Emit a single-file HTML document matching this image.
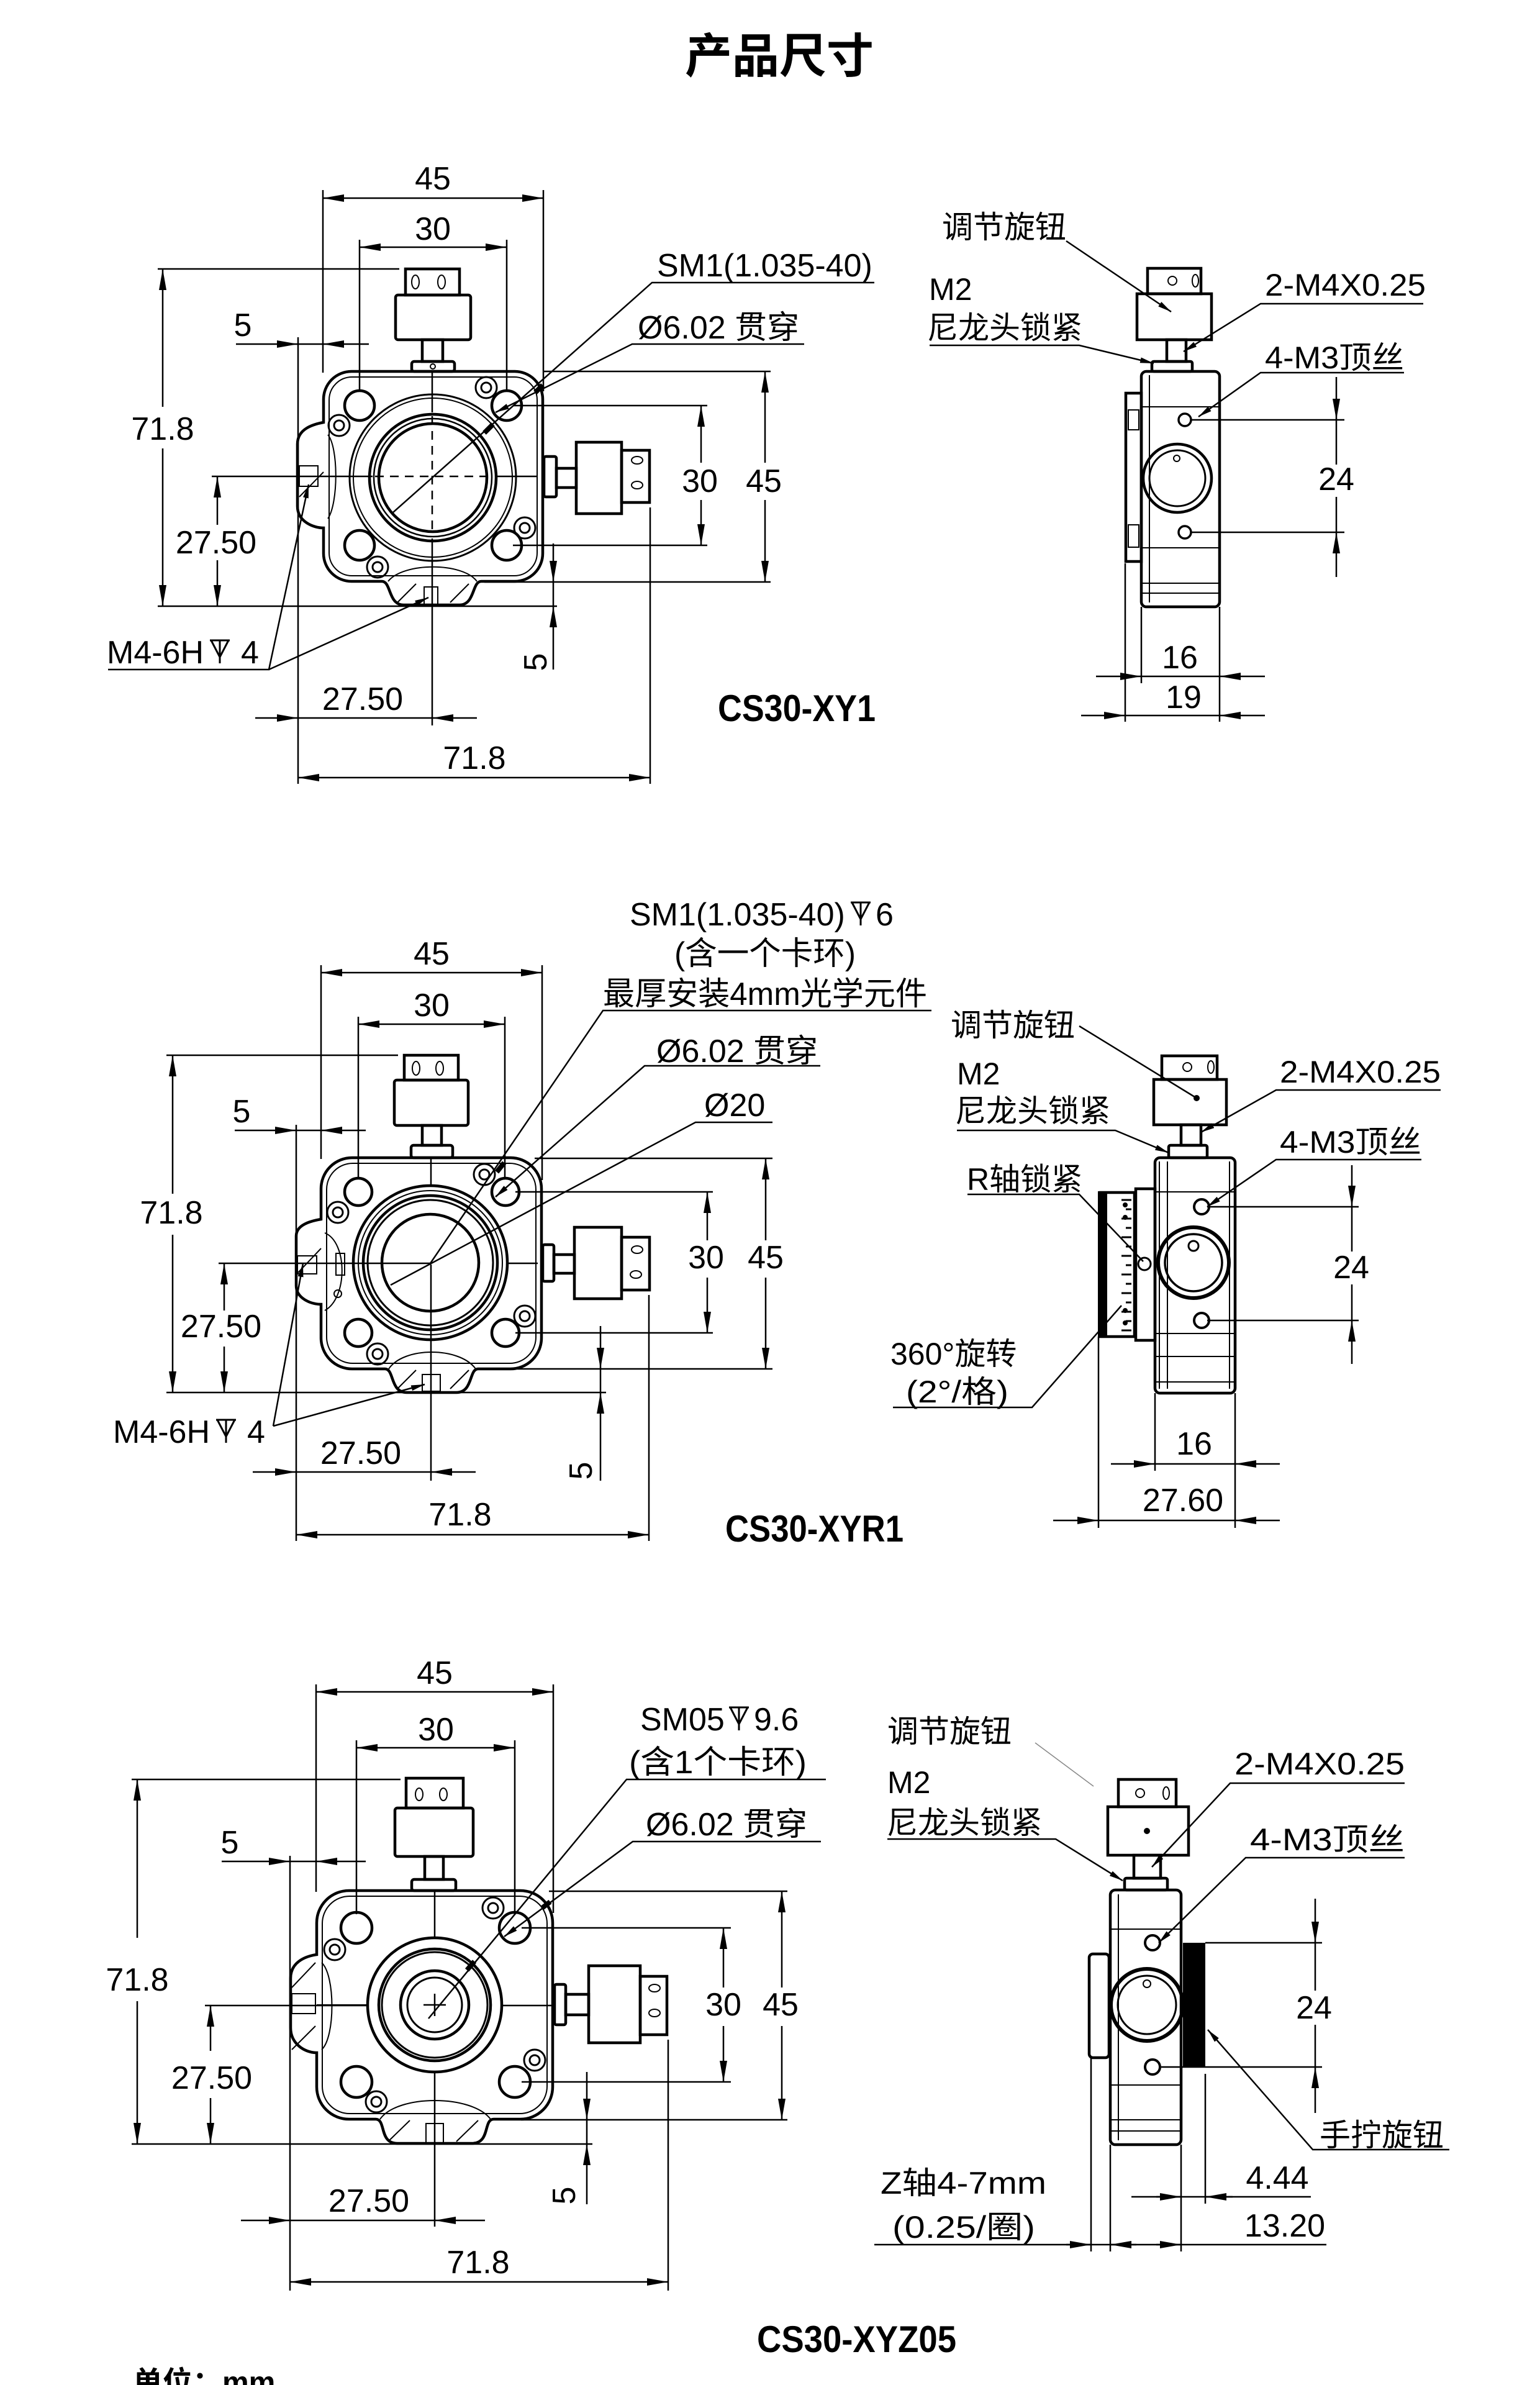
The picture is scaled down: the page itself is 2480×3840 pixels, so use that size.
<!DOCTYPE html>
<html><head><meta charset="utf-8">
<style>
html,body{margin:0;padding:0;background:#fff;}
svg{display:block;}
.dl{stroke:#000;stroke-width:2.5;fill:none;}
.pl{stroke:#000;stroke-width:4.5;fill:none;}
.tl{stroke:#000;stroke-width:2;fill:none;}
.ae{marker-end:url(#ar);}
.a2{marker-start:url(#ar);marker-end:url(#ar);}
.le{marker-end:url(#sa);}
.dash{stroke-dasharray:14 10;}
text{font-family:"Liberation Sans","Noto Sans CJK SC",sans-serif;fill:#000;}
.n{font-size:52px;}
.c{font-size:50px;}
.b{font-size:60px;font-weight:bold;}
.m{text-anchor:middle;}
</style></head>
<body>
<svg xmlns="http://www.w3.org/2000/svg" width="2480" height="3840" viewBox="0 0 2480 3840">
<defs>
<marker id="ar" viewBox="0 0 34 12" refX="34" refY="6" markerWidth="34" markerHeight="12" markerUnits="userSpaceOnUse" orient="auto-start-reverse"><path d="M0,0 L34,6 L0,12 Z" fill="#000"/></marker>
<marker id="sa" viewBox="0 0 22 9" refX="22" refY="4.5" markerWidth="22" markerHeight="9" markerUnits="userSpaceOnUse" orient="auto"><path d="M0,0 L22,4.5 L0,9 Z" fill="#000"/></marker>
<g id="scr" fill="none" stroke="#000" stroke-width="3"><circle r="17"/><circle r="8"/></g>
</defs>
<rect width="2480" height="3840" fill="#fff"/>

<text x="1255" y="117" class="m" style="font:bold 76px 'Noto Sans CJK SC',sans-serif">产品尺寸</text>

<!-- ================= SECTION 1 FRONT ================= -->
<g class="dl">
<line x1="520" y1="306" x2="520" y2="600"/>
<line x1="875" y1="306" x2="875" y2="630"/>
<line class="a2" x1="520" y1="319" x2="875" y2="319"/>
<line x1="579" y1="386" x2="579" y2="630"/>
<line x1="816" y1="386" x2="816" y2="630"/>
<line class="a2" x1="579" y1="398" x2="816" y2="398"/>
<line x1="254" y1="433" x2="643" y2="433"/>
<line x1="254" y1="976" x2="897" y2="976"/>
<line class="ae" x1="262" y1="655" x2="262" y2="433"/>
<line class="ae" x1="262" y1="722" x2="262" y2="976"/>
<line class="ae" x1="350" y1="845" x2="350" y2="767"/>
<line class="ae" x1="350" y1="902" x2="350" y2="976"/>
<line x1="341" y1="767" x2="600" y2="767"/>
<line class="dash" x1="604" y1="767" x2="794" y2="767"/>
<line x1="798" y1="767" x2="866" y2="767"/>
<line class="ae" x1="380" y1="554" x2="480" y2="554"/>
<line class="ae" x1="594" y1="554" x2="520" y2="554"/>
<line x1="480" y1="554" x2="520" y2="554"/>
<line x1="480" y1="543" x2="480" y2="1262"/>
<line class="ae" x1="411" y1="1156" x2="480" y2="1156"/>
<line class="ae" x1="768" y1="1156" x2="696" y2="1156"/>
<line x1="480" y1="1156" x2="696" y2="1156"/>
<line x1="696" y1="600" x2="696" y2="664"/>
<line class="dash" x1="696" y1="670" x2="696" y2="862"/>
<line x1="696" y1="867" x2="696" y2="1168"/>
<line class="a2" x1="480" y1="1252" x2="1047" y2="1252"/>
<line x1="1047" y1="817" x2="1047" y2="1262"/>
<line class="ae" x1="891" y1="875" x2="891" y2="937"/>
<line class="ae" x1="891" y1="1078" x2="891" y2="976"/>
<line x1="891" y1="937" x2="891" y2="976"/>
<line x1="780" y1="937" x2="1241" y2="937"/>
<line class="ae" x1="1232" y1="745" x2="1232" y2="598"/>
<line class="ae" x1="1232" y1="805" x2="1232" y2="937"/>
<line x1="874" y1="598" x2="1241" y2="598"/>
<line class="ae" x1="1129" y1="745" x2="1129" y2="653"/>
<line class="ae" x1="1129" y1="805" x2="1129" y2="878"/>
<line x1="826" y1="653" x2="1139" y2="653"/>
<line x1="826" y1="878" x2="1139" y2="878"/>
<polyline points="1408,455 1050,455 633,825"/>
<polyline class="le" points="1295,554 1018,554 798,664"/>
<polyline class="le" points="174,1078 433,1078 497,780"/>
<line class="le" x1="433" y1="1078" x2="690" y2="962"/>
</g>
<path d="M780,697 L794,683" stroke="#000" stroke-width="8"/>
<path d="M862,632 L874,620" stroke="#000" stroke-width="8"/>
<g class="n">
<text class="m" x="697" y="305">45</text>
<text class="m" x="697" y="386">30</text>
<text class="m" x="262" y="708">71.8</text>
<text class="m" x="348" y="891">27.50</text>
<text class="m" x="391" y="541">5</text>
<text class="m" x="584" y="1143">27.50</text>
<text class="m" x="764" y="1238">71.8</text>
<text class="m" transform="translate(880,1066) rotate(-90)">5</text>
<text class="m" x="1230" y="792">45</text>
<text class="m" x="1127" y="792">30</text>
<text x="172" y="1068">M4-6H</text>
<text x="388" y="1068">4</text>
<text x="1058" y="445">SM1(1.035-40)</text>
<text x="1027" y="545">Ø6.02 贯穿</text>
</g>
<path d="M338,1031 H370 M340,1031 L354,1058 L368,1031 M354,1031 V1068" stroke="#000" stroke-width="3" fill="none"/>
<!-- part 1 -->
<g class="pl">
<path d="M566,598 H829 A45 45 0 0 1 874,643 V891 A45 45 0 0 1 829,936 H775 C760,936 765,974 740,974 H650 C625,974 630,936 615,936 H566 A45 45 0 0 1 521,891 V850 C505,850 479,840 479,815 V715 C479,690 505,683 521,680 V643 A45 45 0 0 1 566,598 Z"/>
<circle cx="579" cy="653" r="24"/><circle cx="816" cy="653" r="24"/>
<circle cx="579" cy="878" r="24"/><circle cx="816" cy="878" r="24"/>
<circle cx="697" cy="769" r="102"/><circle cx="697" cy="769" r="87"/>
<rect x="653" y="433" width="87" height="42"/>
<rect x="637" y="475" width="121" height="72" rx="4"/>
<rect x="680" y="547" width="33" height="35"/>
<rect x="663" y="582" width="69" height="16" rx="4"/>
<rect x="876" y="735" width="20" height="65" rx="3"/>
<rect x="896" y="754" width="32" height="31"/>
<rect x="928" y="712" width="73" height="115"/>
<rect x="1001" y="725" width="45" height="84"/>
</g>
<g class="tl">
<rect x="530" y="607" width="335" height="320" rx="37"/>
<circle cx="697" cy="769" r="134" stroke-width="3"/><circle cx="697" cy="769" r="128"/>
<circle cx="697" cy="769" r="95" stroke-width="2.5"/>
<ellipse cx="669" cy="454" rx="6" ry="11"/><ellipse cx="711" cy="454" rx="6" ry="11"/>
<circle cx="697" cy="590" r="4"/>
<ellipse cx="1026" cy="741" rx="9" ry="6"/><ellipse cx="1026" cy="781" rx="9" ry="6"/>
<rect x="482" y="750" width="30" height="33"/>
<path d="M528,700 C545,720 545,810 528,835"/>
<path d="M625,936 C650,905 745,905 768,936"/>
<rect x="683" y="945" width="22" height="31"/>
<line x1="482" y1="800" x2="521" y2="760"/><line x1="640" y1="970" x2="670" y2="940"/><line x1="725" y1="970" x2="755" y2="940"/>
</g>
<use href="#scr" x="783" y="624"/><use href="#scr" x="546" y="685"/><use href="#scr" x="845" y="850"/><use href="#scr" x="608" y="913"/>

<!-- ================= SECTION 1 SIDE ================= -->
<g class="c">
<text x="1517" y="383">调节旋钮</text>
<text x="1496" y="483">M2</text>
<text x="1493" y="545">尼龙头锁紧</text>
<text x="2037" y="476" textLength="259" lengthAdjust="spacingAndGlyphs">2-M4X0.25</text>
<text x="2037" y="593" textLength="224" lengthAdjust="spacingAndGlyphs">4-M3顶丝</text>
</g>
<g class="dl">
<line class="le" x1="1717" y1="388" x2="1886" y2="502"/>
<polyline class="le" points="1497,556 1738,556 1858,585"/>
<polyline class="le" points="2292,489 2030,489 1906,566"/>
<polyline class="le" points="2261,600 2030,600 1930,671"/>
<line class="ae" x1="2152" y1="607" x2="2152" y2="676"/>
<line x1="2152" y1="676" x2="2152" y2="748"/>
<line x1="2152" y1="800" x2="2152" y2="857"/>
<line class="ae" x1="2152" y1="929" x2="2152" y2="857"/>
<line x1="1918" y1="676" x2="2165" y2="676"/>
<line x1="1918" y1="857" x2="2165" y2="857"/>
<line class="ae" x1="1765" y1="1089" x2="1838" y2="1089"/>
<line class="ae" x1="2037" y1="1089" x2="1964" y2="1089"/>
<line x1="1838" y1="1089" x2="1964" y2="1089"/>
<line class="ae" x1="1741" y1="1152" x2="1812" y2="1152"/>
<line class="ae" x1="2037" y1="1152" x2="1964" y2="1152"/>
<line x1="1812" y1="1152" x2="1964" y2="1152"/>
<line x1="1812" y1="907" x2="1812" y2="1162"/>
<line x1="1838" y1="977" x2="1838" y2="1100"/>
<line x1="1964" y1="977" x2="1964" y2="1162"/>
</g>
<g class="n">
<text class="m" x="2152" y="789">24</text>
<text class="m" x="1900" y="1076">16</text>
<text class="m" x="1906" y="1140">19</text>
</g>
<g class="pl">
<rect x="1848" y="432" width="86" height="41"/>
<rect x="1831" y="473" width="120" height="74"/>
<rect x="1879" y="547" width="31" height="35"/>
<rect x="1855" y="582" width="65" height="16" rx="3"/>
<rect x="1838" y="598" width="126" height="379" rx="8"/>
<circle cx="1896" cy="770" r="55"/>
<rect x="1813" y="633" width="25" height="271"/>
</g>
<g class="tl">
<circle cx="1888" cy="452" r="7"/><ellipse cx="1925" cy="452" rx="5" ry="10"/>
<line x1="1851" y1="604" x2="1851" y2="970"/>
<line x1="1838" y1="655" x2="1964" y2="655"/>
<line x1="1838" y1="882" x2="1964" y2="882"/>
<line x1="1838" y1="939" x2="1964" y2="939"/>
<line x1="1838" y1="955" x2="1964" y2="955"/>
<circle cx="1908" cy="676" r="10" stroke-width="3.5"/><circle cx="1908" cy="857" r="10" stroke-width="3.5"/>
<circle cx="1896" cy="770" r="45" stroke-width="3"/><circle cx="1895" cy="738" r="5"/>
<rect x="1817" y="660" width="17" height="32"/><rect x="1817" y="845" width="17" height="36"/>
</g>
<text class="b" x="1156" y="1161" textLength="254" lengthAdjust="spacingAndGlyphs">CS30-XY1</text>

<!-- ================= SECTION 2 FRONT ================= -->
<g class="dl">
<line x1="517" y1="1554" x2="517" y2="1866"/>
<line x1="873" y1="1554" x2="873" y2="1900"/>
<line class="a2" x1="517" y1="1566" x2="873" y2="1566"/>
<line x1="577" y1="1637" x2="577" y2="1897"/>
<line x1="813" y1="1637" x2="813" y2="1897"/>
<line class="a2" x1="577" y1="1649" x2="813" y2="1649"/>
<line x1="268" y1="1699" x2="641" y2="1699"/>
<line x1="268" y1="2242" x2="976" y2="2242"/>
<line class="ae" x1="278" y1="1922" x2="278" y2="1699"/>
<line class="ae" x1="278" y1="1988" x2="278" y2="2242"/>
<line class="ae" x1="361" y1="2110" x2="361" y2="2034"/>
<line class="ae" x1="361" y1="2168" x2="361" y2="2242"/>
<line x1="352" y1="2034" x2="693" y2="2034"/>
<line x1="818" y1="2034" x2="866" y2="2034"/>
<line class="ae" x1="378" y1="1820" x2="477" y2="1820"/>
<line class="ae" x1="589" y1="1820" x2="517" y2="1820"/>
<line x1="477" y1="1820" x2="517" y2="1820"/>
<line x1="477" y1="1811" x2="477" y2="2481"/>
<line class="ae" x1="407" y1="2370" x2="477" y2="2370"/>
<line class="ae" x1="766" y1="2370" x2="694" y2="2370"/>
<line x1="477" y1="2370" x2="694" y2="2370"/>
<line x1="694" y1="1866" x2="694" y2="1910"/>
<line x1="694" y1="2036" x2="694" y2="2384"/>
<line class="a2" x1="477" y1="2471" x2="1045" y2="2471"/>
<line x1="1045" y1="2085" x2="1045" y2="2481"/>
<line class="ae" x1="967" y1="2135" x2="967" y2="2204"/>
<line class="ae" x1="967" y1="2384" x2="967" y2="2242"/>
<line x1="967" y1="2204" x2="967" y2="2242"/>
<line x1="833" y1="2204" x2="1244" y2="2204"/>
<line class="ae" x1="1233" y1="1997" x2="1233" y2="1865"/>
<line class="ae" x1="1233" y1="2057" x2="1233" y2="2204"/>
<line x1="861" y1="1865" x2="1244" y2="1865"/>
<line class="ae" x1="1139" y1="1997" x2="1139" y2="1919"/>
<line class="ae" x1="1139" y1="2057" x2="1139" y2="2146"/>
<line x1="830" y1="1919" x2="1148" y2="1919"/>
<line x1="830" y1="2146" x2="1148" y2="2146"/>
<polyline points="1500,1627 971,1627 693,2034"/>
<polyline class="le" points="1321,1716 1038,1716 798,1927"/>
<polyline points="1244,1807 1120,1807 629,2069"/>
<line class="le" x1="440" y1="2296" x2="488" y2="2034"/>
<line class="le" x1="440" y1="2296" x2="684" y2="2229"/>
</g>
<path d="M800,1887 L812,1872" stroke="#000" stroke-width="8"/>
<g class="n">
<text class="m" x="695" y="1553">45</text>
<text class="m" x="695" y="1636">30</text>
<text class="m" x="276" y="1970">71.8</text>
<text class="m" x="356" y="2153">27.50</text>
<text class="m" x="389" y="1807">5</text>
<text class="m" x="581" y="2357">27.50</text>
<text class="m" x="741" y="2456">71.8</text>
<text class="m" transform="translate(953,2368) rotate(-90)">5</text>
<text class="m" x="1233" y="2042">45</text>
<text class="m" x="1137" y="2042">30</text>
<text x="182" y="2323">M4-6H</text>
<text x="398" y="2323">4</text>
<text x="1014" y="1490">SM1(1.035-40)</text>
<text x="1410" y="1490">6</text>
<text x="1086" y="1553" textLength="292" lengthAdjust="spacingAndGlyphs">(含一个卡环)</text>
<text x="971" y="1618" textLength="522" lengthAdjust="spacingAndGlyphs">最厚安装4mm光学元件</text>
<text x="1057" y="1710">Ø6.02 贯穿</text>
<text x="1134" y="1797">Ø20</text>
</g>
<path d="M348,2286 H380 M350,2286 L364,2313 L378,2286 M364,2286 V2323" stroke="#000" stroke-width="3" fill="none"/>
<path d="M1370,1453 H1402 M1372,1453 L1386,1480 L1400,1453 M1386,1453 V1490" stroke="#000" stroke-width="3" fill="none"/>
<g class="pl">
<path d="M567,1864 H822 A50 50 0 0 1 872,1914 V2154 A50 50 0 0 1 822,2204 H770 C755,2204 762,2242 735,2242 H655 C628,2242 635,2204 620,2204 H567 A50 50 0 0 1 517,2154 V2100 C500,2100 477,2090 477,2070 V1990 C477,1972 500,1966 517,1963 V1914 A50 50 0 0 1 567,1864 Z"/>
<circle cx="577" cy="1919" r="22"/><circle cx="814" cy="1919" r="22"/>
<circle cx="577" cy="2146" r="22"/><circle cx="814" cy="2146" r="22"/>
<circle cx="693" cy="2033" r="124"/><circle cx="693" cy="2033" r="108"/><circle cx="693" cy="2033" r="78"/>
<rect x="651" y="1699" width="87" height="40"/>
<rect x="635" y="1739" width="119" height="73" rx="4"/>
<rect x="680" y="1812" width="31" height="32"/>
<rect x="662" y="1844" width="67" height="20" rx="4"/>
<rect x="874" y="2004" width="18" height="59" rx="3"/>
<rect x="892" y="2020" width="33" height="30"/>
<rect x="925" y="1976" width="76" height="115"/>
<rect x="1001" y="1992" width="45" height="85"/>
</g>
<g class="tl">
<rect x="526" y="1873" width="337" height="322" rx="42"/>
<circle cx="693" cy="2033" r="101" stroke-width="3"/><circle cx="693" cy="2033" r="116"/>
<ellipse cx="670" cy="1720" rx="6" ry="11"/><ellipse cx="708" cy="1720" rx="6" ry="11"/>
<ellipse cx="1026" cy="2012" rx="9" ry="6"/><ellipse cx="1024" cy="2052" rx="9" ry="6"/>
<rect x="479" y="2022" width="31" height="29"/>
<rect x="541" y="2018" width="14" height="35"/>
<path d="M523,1985 C560,2000 560,2090 523,2110"/>
<circle cx="544" cy="2083" r="6"/>
<path d="M626,2204 C650,2168 740,2168 766,2204"/>
<rect x="680" y="2213" width="29" height="27"/>
<line x1="479" y1="2050" x2="517" y2="2010"/><line x1="640" y1="2236" x2="670" y2="2206"/><line x1="725" y1="2236" x2="755" y2="2206"/>
</g>
<use href="#scr" x="780" y="1891"/><use href="#scr" x="544" y="1952"/><use href="#scr" x="845" y="2119"/><use href="#scr" x="608" y="2180"/>

<!-- ================= SECTION 2 SIDE ================= -->
<g class="c">
<text x="1531" y="1668">调节旋钮</text>
<text x="1541" y="1746">M2</text>
<text x="1538" y="1806">尼龙头锁紧</text>
<text x="2061" y="1743" textLength="259" lengthAdjust="spacingAndGlyphs">2-M4X0.25</text>
<text x="2061" y="1856" textLength="228" lengthAdjust="spacingAndGlyphs">4-M3顶丝</text>
<text x="1557" y="1916">R轴锁紧</text>
<text x="1434" y="2197">360°旋转</text>
<text x="1459" y="2258" textLength="165" lengthAdjust="spacingAndGlyphs">(2°/格)</text>
</g>
<g class="dl">
<line x1="1738" y1="1652" x2="1927" y2="1768"/>
<polyline class="le" points="1541,1820 1796,1820 1882,1856"/>
<polyline class="le" points="2320,1755 2055,1755 1934,1823"/>
<polyline class="le" points="2289,1867 2055,1867 1944,1943"/>
<polyline points="1558,1923 1738,1923 1841,2031"/>
<polyline points="1438,2266 1662,2266 1806,2102"/>
<line class="ae" x1="2177" y1="1876" x2="2177" y2="1943"/>
<line x1="2177" y1="1943" x2="2177" y2="2015"/>
<line x1="2177" y1="2068" x2="2177" y2="2126"/>
<line class="ae" x1="2177" y1="2196" x2="2177" y2="2126"/>
<line x1="1944" y1="1943" x2="2188" y2="1943"/>
<line x1="1944" y1="2126" x2="2188" y2="2126"/>
<line class="ae" x1="1789" y1="2357" x2="1860" y2="2357"/>
<line class="ae" x1="2061" y1="2357" x2="1989" y2="2357"/>
<line x1="1860" y1="2357" x2="1989" y2="2357"/>
<line class="ae" x1="1696" y1="2448" x2="1769" y2="2448"/>
<line class="ae" x1="2061" y1="2448" x2="1989" y2="2448"/>
<line x1="1769" y1="2448" x2="1989" y2="2448"/>
<line x1="1769" y1="2152" x2="1769" y2="2460"/>
<line x1="1860" y1="2243" x2="1860" y2="2368"/>
<line x1="1989" y1="2243" x2="1989" y2="2460"/>
</g>
<circle cx="1927" cy="1768" r="5" fill="#000"/>
<g class="n">
<text class="m" x="2176" y="2058">24</text>
<text class="m" x="1923" y="2342">16</text>
<text class="m" x="1905" y="2433">27.60</text>
</g>
<g class="pl">
<rect x="1871" y="1700" width="89" height="38"/>
<rect x="1858" y="1738" width="117" height="73"/>
<rect x="1902" y="1811" width="32" height="33"/>
<rect x="1882" y="1844" width="62" height="20" rx="3"/>
<rect x="1860" y="1864" width="129" height="379" rx="8"/>
<circle cx="1922" cy="2033" r="57" stroke-width="6"/>
<rect x="1829" y="1914" width="31" height="244"/>
<rect x="1772" y="1920" width="55" height="232"/>
</g>
<rect x="1768" y="1918" width="15" height="236" fill="#000"/>
<g class="tl">
<circle cx="1912" cy="1718" r="7"/><ellipse cx="1950" cy="1718" rx="5" ry="10"/>
<line x1="1867" y1="1870" x2="1867" y2="2236"/>
<line x1="1880" y1="1870" x2="1880" y2="2236"/>
<line x1="1980" y1="1870" x2="1980" y2="2236"/>
<line x1="1860" y1="1919" x2="1989" y2="1919"/>
<line x1="1860" y1="2147" x2="1989" y2="2147"/>
<line x1="1860" y1="2184" x2="1989" y2="2184"/>
<line x1="1860" y1="2225" x2="1989" y2="2225"/>
<circle cx="1935" cy="1943" r="12" stroke-width="4"/><circle cx="1935" cy="2126" r="12" stroke-width="4"/>
<circle cx="1922" cy="2033" r="46" stroke-width="3.5"/><circle cx="1922" cy="2006" r="8" stroke-width="3"/>
<circle cx="1843" cy="2035" r="10" stroke-width="3"/>
<path d="M1806,1932h16 M1813,1947h9 M1806,1962h16 M1813,1977h9 M1806,1992h16 M1813,2007h9 M1806,2022h16 M1813,2037h9 M1806,2052h16 M1813,2067h9 M1806,2082h16 M1813,2097h9 M1806,2112h16 M1813,2127h9 M1806,2142h16" stroke-width="3"/>
</g>
<g fill="#000"><circle cx="1812" cy="1940" r="4"/><circle cx="1812" cy="1960" r="4"/><circle cx="1812" cy="2110" r="4"/><circle cx="1812" cy="2130" r="4"/></g>
<text class="b" x="1168" y="2482" textLength="287" lengthAdjust="spacingAndGlyphs">CS30-XYR1</text>

<!-- ================= SECTION 3 FRONT ================= -->
<g class="dl">
<line x1="509" y1="2712" x2="509" y2="3046"/>
<line x1="891" y1="2712" x2="891" y2="3080"/>
<line class="a2" x1="509" y1="2724" x2="891" y2="2724"/>
<line x1="574" y1="2802" x2="574" y2="3082"/>
<line x1="829" y1="2802" x2="829" y2="3082"/>
<line class="a2" x1="574" y1="2814" x2="829" y2="2814"/>
<line x1="212" y1="2865" x2="645" y2="2865"/>
<line x1="212" y1="3452" x2="954" y2="3452"/>
<line class="ae" x1="221" y1="3120" x2="221" y2="2865"/>
<line class="ae" x1="221" y1="3222" x2="221" y2="3452"/>
<line class="ae" x1="339" y1="3302" x2="339" y2="3229"/>
<line class="ae" x1="339" y1="3378" x2="339" y2="3452"/>
<line x1="330" y1="3229" x2="592" y2="3229"/>
<line x1="808" y1="3229" x2="890" y2="3229"/>
<line class="ae" x1="357" y1="2997" x2="467" y2="2997"/>
<line class="ae" x1="589" y1="2997" x2="509" y2="2997"/>
<line x1="467" y1="2997" x2="509" y2="2997"/>
<line x1="467" y1="2988" x2="467" y2="3688"/>
<line class="ae" x1="388" y1="3575" x2="467" y2="3575"/>
<line class="ae" x1="781" y1="3575" x2="700" y2="3575"/>
<line x1="467" y1="3575" x2="700" y2="3575"/>
<line x1="700" y1="3044" x2="700" y2="3120"/>
<line x1="700" y1="3336" x2="700" y2="3585"/>
<line x1="682" y1="3228" x2="718" y2="3228"/>
<line x1="700" y1="3210" x2="700" y2="3246"/>
<line class="a2" x1="467" y1="3674" x2="1076" y2="3674"/>
<line x1="1076" y1="3284" x2="1076" y2="3688"/>
<line class="ae" x1="945" y1="3336" x2="945" y2="3413"/>
<line class="ae" x1="945" y1="3549" x2="945" y2="3452"/>
<line x1="945" y1="3413" x2="945" y2="3452"/>
<line x1="839" y1="3413" x2="1268" y2="3413"/>
<line class="ae" x1="1259" y1="3200" x2="1259" y2="3045"/>
<line class="ae" x1="1259" y1="3262" x2="1259" y2="3413"/>
<line x1="884" y1="3045" x2="1268" y2="3045"/>
<line class="ae" x1="1165" y1="3200" x2="1165" y2="3104"/>
<line class="ae" x1="1165" y1="3262" x2="1165" y2="3352"/>
<line x1="840" y1="3104" x2="1177" y2="3104"/>
<line x1="840" y1="3352" x2="1177" y2="3352"/>
<polyline points="1330,2865 1009,2865 690,3250"/>
<polyline class="le" points="1322,2965 1019,2965 812,3118"/>
</g>
<path d="M752,3172 L764,3158" stroke="#000" stroke-width="8"/>
<path d="M873,3072 L886,3062" stroke="#000" stroke-width="8"/>
<g class="n">
<text class="m" x="700" y="2711">45</text>
<text class="m" x="702" y="2802">30</text>
<text class="m" x="221" y="3205">71.8</text>
<text class="m" x="341" y="3363">27.50</text>
<text class="m" x="370" y="2984">5</text>
<text class="m" x="594" y="3561">27.50</text>
<text class="m" x="770" y="3660">71.8</text>
<text class="m" transform="translate(926,3535) rotate(-90)">5</text>
<text class="m" x="1257" y="3245">45</text>
<text class="m" x="1165" y="3245">30</text>
<text x="1031" y="2786">SM05</text>
<text x="1214" y="2786">9.6</text>
<text x="1013" y="2855" textLength="286" lengthAdjust="spacingAndGlyphs">(含1个卡环)</text>
<text x="1040" y="2955">Ø6.02 贯穿</text>
</g>
<path d="M1174,2749 H1206 M1176,2749 L1190,2776 L1204,2749 M1190,2749 V2786" stroke="#000" stroke-width="3" fill="none"/>
<g class="pl">
<path d="M562,3044 H838 A52 52 0 0 1 890,3096 V3360 A52 52 0 0 1 838,3412 H795 C778,3412 790,3451 760,3451 H640 C610,3451 622,3412 605,3412 H562 A52 52 0 0 1 510,3360 V3305 C490,3305 468,3290 468,3265 V3185 C468,3160 490,3150 510,3147 V3096 A52 52 0 0 1 562,3044 Z"/>
<circle cx="574" cy="3104" r="25"/><circle cx="829" cy="3104" r="25"/>
<circle cx="574" cy="3352" r="25"/><circle cx="829" cy="3352" r="25"/>
<circle cx="700" cy="3228" r="108"/><circle cx="700" cy="3228" r="90"/><circle cx="700" cy="3228" r="55"/>
<rect x="654" y="2863" width="92" height="48"/>
<rect x="636" y="2911" width="126" height="78" rx="4"/>
<rect x="684" y="2989" width="30" height="37"/>
<rect x="663" y="3026" width="71" height="18" rx="4"/>
<rect x="893" y="3195" width="18" height="65" rx="3"/>
<rect x="911" y="3211" width="37" height="33"/>
<rect x="948" y="3165" width="83" height="124"/>
<rect x="1031" y="3182" width="43" height="94"/>
</g>
<g class="tl">
<rect x="519" y="3053" width="362" height="350" rx="44"/>
<line x1="700" y1="3053" x2="700" y2="3120"/>
<line x1="510" y1="3228" x2="592" y2="3228"/>
<circle cx="700" cy="3228" r="85" stroke-width="3"/><circle cx="700" cy="3228" r="44" stroke-width="3"/>
<ellipse cx="675" cy="2889" rx="6" ry="10"/><ellipse cx="714" cy="2889" rx="6" ry="10"/>
<ellipse cx="1054" cy="3201" rx="9" ry="6"/><ellipse cx="1054" cy="3241" rx="9" ry="6"/>
<path d="M518,3160 C540,3180 540,3280 518,3300"/>
<rect x="470" y="3210" width="38" height="32"/>
<path d="M612,3412 C640,3372 760,3372 790,3412"/>
<rect x="686" y="3419" width="28" height="32"/>
<line x1="470" y1="3200" x2="508" y2="3160"/><line x1="470" y1="3300" x2="508" y2="3262"/>
<line x1="625" y1="3448" x2="660" y2="3414"/><line x1="735" y1="3448" x2="770" y2="3414"/>
</g>
<use href="#scr" x="794" y="3072"/><use href="#scr" x="539" y="3139"/><use href="#scr" x="861" y="3317"/><use href="#scr" x="606" y="3384"/>

<!-- ================= SECTION 3 SIDE ================= -->
<g class="c">
<text x="1429" y="2805">调节旋钮</text>
<text x="1429" y="2887">M2</text>
<text x="1428" y="2952">尼龙头锁紧</text>
<text x="1988" y="2857" textLength="274" lengthAdjust="spacingAndGlyphs">2-M4X0.25</text>
<text x="2013" y="2979" textLength="249" lengthAdjust="spacingAndGlyphs">4-M3顶丝</text>
<text x="2125" y="3455">手拧旋钮</text>
<text x="1418" y="3532" textLength="267" lengthAdjust="spacingAndGlyphs">Z轴4-7mm</text>
<text x="1437" y="3603" textLength="230" lengthAdjust="spacingAndGlyphs">(0.25/圈)</text>
</g>
<g class="dl">
<line x1="1667" y1="2806" x2="1761" y2="2876" stroke="#888" stroke-width="1.5"/>
<polyline class="le" points="1429,2961 1700,2961 1808,3028"/>
<polyline class="le" points="2262,2871 1981,2871 1855,3006"/>
<polyline class="le" points="2262,2991 2006,2991 1866,3128"/>
<polyline class="le" points="2334,3461 2114,3461 1945,3268"/>
<line class="ae" x1="2118" y1="3057" x2="2118" y2="3128"/>
<line x1="2118" y1="3128" x2="2118" y2="3205"/>
<line x1="2118" y1="3260" x2="2118" y2="3328"/>
<line class="ae" x1="2118" y1="3402" x2="2118" y2="3328"/>
<line x1="1941" y1="3128" x2="2129" y2="3128"/>
<line x1="1870" y1="3328" x2="2129" y2="3328"/>
<line x1="1822" y1="3537" x2="2111" y2="3537"/>
<line class="ae" x1="1862" y1="3537" x2="1902" y2="3537"/>
<line class="ae" x1="1985" y1="3537" x2="1941" y2="3537"/>
<line x1="1941" y1="3339" x2="1941" y2="3548"/>
<line x1="1902" y1="3453" x2="1902" y2="3625"/>
<line x1="1408" y1="3614" x2="2136" y2="3614"/>
<line class="ae" x1="1717" y1="3614" x2="1757" y2="3614"/>
<line class="ae" x1="1830" y1="3614" x2="1788" y2="3614"/>
<line class="ae" x1="1862" y1="3614" x2="1902" y2="3614"/>
<line x1="1757" y1="3313" x2="1757" y2="3625"/>
<line x1="1788" y1="3453" x2="1788" y2="3625"/>
</g>
<g class="n">
<text class="m" x="2116" y="3250">24</text>
<text class="m" x="2057" y="3524">4.44</text>
<text class="m" x="2069" y="3601">13.20</text>
</g>
<g class="pl">
<rect x="1801" y="2865" width="93" height="44"/>
<rect x="1784" y="2909" width="130" height="78"/>
<rect x="1826" y="2987" width="43" height="37"/>
<rect x="1811" y="3024" width="69" height="19" rx="3"/>
<rect x="1788" y="3043" width="114" height="410" rx="8"/>
<circle cx="1847" cy="3228" r="58" stroke-width="6"/>
<rect x="1754" y="3146" width="32" height="167" rx="6"/>
</g>
<rect x="1905" y="3128" width="36" height="200" fill="#000"/>
<g class="tl">
<circle cx="1836" cy="2887" r="7"/><ellipse cx="1878" cy="2887" rx="5" ry="10"/>
<circle cx="1847" cy="2948" r="4" fill="#000"/>
<line x1="1801" y1="3050" x2="1801" y2="3446"/>
<line x1="1788" y1="3106" x2="1902" y2="3106"/>
<line x1="1788" y1="3357" x2="1902" y2="3357"/>
<line x1="1788" y1="3413" x2="1902" y2="3413"/>
<line x1="1788" y1="3431" x2="1902" y2="3431"/>
<circle cx="1856" cy="3128" r="12" stroke-width="4"/><circle cx="1856" cy="3328" r="12" stroke-width="4"/>
<circle cx="1847" cy="3228" r="47" stroke-width="3"/><circle cx="1847" cy="3194" r="6"/>
</g>
<text class="b" x="1219" y="3787" textLength="321" lengthAdjust="spacingAndGlyphs">CS30-XYZ05</text>
<text x="214" y="3852" style="font:bold 48px 'Liberation Sans','Noto Sans CJK SC',sans-serif">单位：mm</text>
</svg>
</body></html>
